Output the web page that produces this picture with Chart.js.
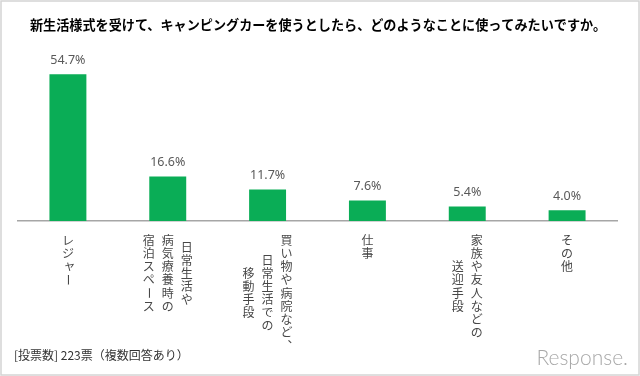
<!DOCTYPE html>
<html><head><meta charset="utf-8">
<script src="https://cdn.jsdelivr.net/npm/chart.js@4"></script>
<style>html,body{margin:0;padding:0;background:#fff}canvas{display:block}</style>
</head><body>
<canvas id="c" width="640" height="376"></canvas>
<script>
const titleText = "新生活様式を受けて、キャンピングカーを使うとしたら、どのようなことに使ってみたいですか。";
const categories = [["レジャー"], ["日常生活や", "病気療養時の", "宿泊スペース"], ["買い物や病院など、", "日常生活での", "移動手段"], ["仕事"], ["家族や友人などの", "送迎手段"], ["その他"]];
const values = [54.7, 16.6, 11.7, 7.6, 5.4, 4.0];
const valueLabels = values.map(v => v.toFixed(1) + "%");
const footerText = "[投票数] 223票（複数回答あり）";
const logoText = "Response.";

const CJK = '"Noto Sans CJK JP", "Noto Sans", sans-serif';
const smallKana = "ャュョッァィゥェォゃゅょっぁぃぅぇぉ";

const decor = {
  id: 'decor',
  beforeDraw(chart) {
    const ctx = chart.ctx;
    ctx.save();
    ctx.fillStyle = '#fff';
    ctx.fillRect(0, 0, chart.width, chart.height);
    ctx.restore();
  },
  afterDraw(chart) {
    const ctx = chart.ctx;
    const xs = chart.scales.x;
    ctx.save();
    // frame
    ctx.strokeStyle = '#d4d4d4';
    ctx.lineWidth = 1.5;
    ctx.strokeRect(1, 1, chart.width - 2, chart.height - 2);
    // title
    ctx.fillStyle = '#000';
    ctx.font = 'bold 13.2px ' + CJK;
    ctx.textAlign = 'left';
    ctx.textBaseline = 'middle';
    ctx.fillText(titleText, 30, 25, 576);
    // value labels
    ctx.fillStyle = '#595959';
    ctx.font = '12.5px "Noto Sans", sans-serif';
    ctx.textAlign = 'center';
    const meta = chart.getDatasetMeta(0);
    meta.data.forEach((bar, i) => {
      ctx.fillText(valueLabels[i], bar.x, bar.y - 14);
    });
    // vertical category labels
    ctx.fillStyle = '#474747';
    ctx.font = '12px ' + CJK;
    const pitch = 13.1, colGap = 19, blockTop = 234;
    categories.forEach((cols, i) => {
      const cx = xs.getPixelForValue(i);
      const maxLen = Math.max(...cols.map(s => s.length));
      cols.forEach((s, k) => {
        const x = cx + (cols.length - 1) / 2 * colGap - k * colGap;
        const top = blockTop + (maxLen - s.length) * pitch / 2;
        [...s].forEach((ch, j) => {
          const y = top + j * pitch + pitch / 2;
          ctx.save();
          ctx.translate(x, y);
          if (ch === 'ー') {
            ctx.rotate(Math.PI / 2);
          } else if (ch === '、' || ch === '。') {
            ctx.translate(7, -7);
          } else if (smallKana.includes(ch)) {
            ctx.translate(1.5, -1.5);
          }
          ctx.textAlign = 'center';
          ctx.textBaseline = 'middle';
          ctx.fillText(ch, 0, 0);
          ctx.restore();
        });
      });
    });
    // footer
    ctx.fillStyle = '#333';
    ctx.font = '12px ' + CJK;
    ctx.textAlign = 'left';
    ctx.textBaseline = 'middle';
    ctx.fillText(footerText, 14, 355);
    // logo
    ctx.fillStyle = '#a8a8a8';
    ctx.font = '300 21px Lato, sans-serif';
    ctx.textAlign = 'right';
    ctx.textBaseline = 'alphabetic';
    ctx.fillText(logoText, 628, 365, 116);
    ctx.restore();
  }
};

new Chart(document.getElementById('c'), {
  type: 'bar',
  data: {
    labels: categories.map(c => c.join('')),
    datasets: [{
      data: values,
      backgroundColor: '#0aad56',
      borderWidth: 0,
      barPercentage: 0.37,
      categoryPercentage: 1
    }]
  },
  options: {
    responsive: false,
    animation: false,
    devicePixelRatio: 1,
    layout: { padding: { left: 18, right: 23, top: 60, bottom: 155 } },
    plugins: { legend: { display: false }, tooltip: { enabled: false }, title: { display: false } },
    scales: {
      x: {
        grid: { display: false, drawTicks: false },
        border: { display: true, color: '#a6a6a6', width: 1.5 },
        ticks: { display: false }
      },
      y: { display: false, min: 0, max: 60 }
    }
  },
  plugins: [decor]
});
</script>
</body></html>
